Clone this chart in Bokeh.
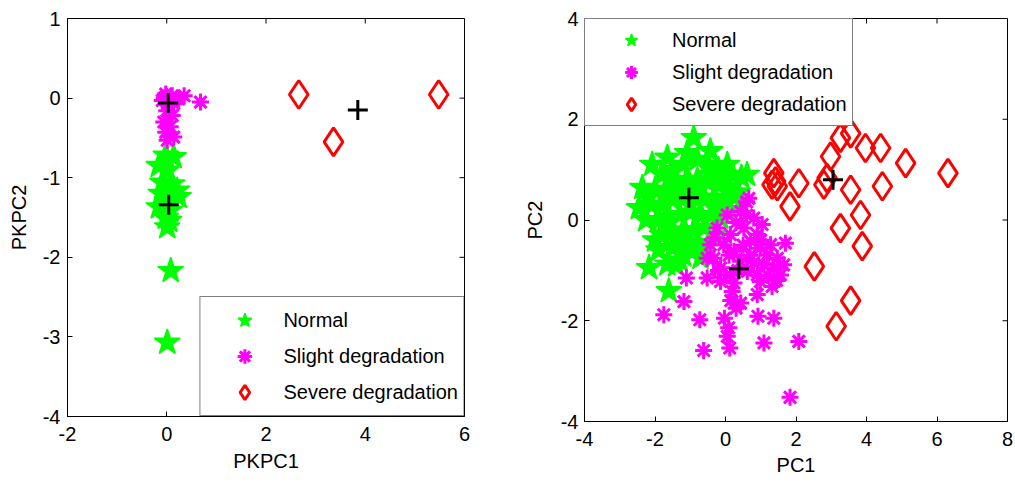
import math
from bokeh.plotting import figure
from bokeh.layouts import row
from bokeh.models import FixedTicker, Range1d, Legend, LegendItem
from bokeh.embed import file_html
from bokeh.resources import INLINE

# ---------------- data: left panel (PKPC) ----------------
left_normal_x = [-0.02, 0.14, -0.16, 0.01, -0.09, 0.11, 0.21, -0.12, 0.24, 0.00, -0.16, 0.07, -0.02, 0.05, 0.01, 0.08, 0.01]
left_normal_y = [-0.72, -0.74, -0.85, -0.91, -1.06, -1.08, -1.16, -1.20, -1.24, -1.29, -1.37, -1.41, -1.50, -1.54, -1.62, -2.17, -3.07]
left_slight_x = [-0.02, 0.11, -0.09, 0.14, 0.00, 0.11, -0.06, 0.07, -0.02, 0.14, 0.01, 0.35, 0.68, 0.24, 0.00, 0.05, -0.05, 0.08, 0.02, 0.10]
left_slight_y = [0.05, 0.03, -0.03, -0.07, -0.16, -0.22, -0.30, -0.36, -0.43, -0.49, -0.53, 0.03, -0.05, -0.01, 0.02, -0.02, 0.00, 0.00, -0.08, -0.04]
left_severe_x = [2.66, 3.36, 5.48]
left_severe_y = [0.045, -0.55, 0.045]
left_center_x = [0.03, 0.04, 3.85]
left_center_y = [-0.06, -1.34, -0.15]

# ---------------- data: right panel (PC) ----------------
right_normal_x = [-0.90, -0.43, 0.05, 0.61, -1.65, -1.09, -2.08, -2.36, -2.46, -2.17, -1.61, -1.65, -0.71, -1.20, -2.00,
                  -2.25, 0.35, 0.10, -0.30, 0.45,
                  -1.80, -1.50, -1.20, -0.80, -0.50, -0.20, 0.20,
                  -2.00, -1.70, -1.40, -1.10, -0.80, -0.50, -0.20, 0.10,
                  -2.10, -1.80, -1.50, -1.20, -0.90, -0.60, -0.30, 0.00,
                  -1.90, -1.60, -1.30, -1.00, -0.70, -0.40, -0.15,
                  -1.80, -1.50, -1.20, -0.90, -0.60,
                  -1.90, -1.50, -1.10, -0.80, -0.50, -1.40, -1.30,
                  -1.00, -0.95, -1.30, -0.70, -1.60, -0.40, -0.10, -2.20, -1.75, -1.35, -0.95, -0.25, 0.25]
right_normal_y = [1.63, 1.37, 1.10, 0.90, 1.24, 1.33, 1.10, 0.64, 0.24, -0.95, -1.41, -0.88, -0.75, -0.70, -0.40,
                  0.00, 0.55, 0.20, -0.30, 0.85,
                  0.90, 1.00, 1.10, 1.20, 1.10, 1.00, 0.90,
                  0.60, 0.60, 0.70, 0.80, 0.80, 0.75, 0.70, 0.65,
                  0.30, 0.30, 0.40, 0.45, 0.50, 0.40, 0.45, 0.40,
                  0.00, 0.05, 0.10, 0.15, 0.10, 0.10, 0.05,
                  -0.30, -0.25, -0.20, -0.20, -0.15,
                  -0.60, -0.55, -0.50, -0.45, -0.50, -0.90, -0.80,
                  0.30, 0.60, 0.55, 0.65, 0.80, 0.90, 0.85, 0.45, -0.10, -0.40, -0.55, 0.25, 0.45]
right_slight_x = [0.60, 0.43, 0.05, -0.24, -0.43, -0.52, -0.52, -0.14, 0.24, 0.14, 0.52, 0.71, 0.90, 0.99, 1.18, 1.47,
                  1.37, 1.56, 0.90, 0.99, -0.33, -0.05, 0.43, 0.62, 0.14, -0.14, 0.24, 0.80, 1.09, 1.65, 1.28,
                  -1.11, -1.18, -1.75, -0.73, -0.62, -0.03, 0.09, 0.05, 0.12, 0.92, 1.37, 1.09, 2.08, 1.83, 0.19,
                  0.43, 0.90, 1.32, 1.70, 1.04, 0.66,
                  0.30, 0.50, 0.10, -0.30, 0.70, 1.20, 0.35, 0.80, -0.20, 0.60, 1.00, 1.45, 0.15, 0.30]
right_slight_y = [0.36, 0.17, 0.10, -0.16, -0.49, -0.76, -1.15, -0.95, -0.62, -0.29, -0.16, -0.42, -0.29, -0.56, -0.69, -0.76,
                  -0.95, -1.09, -1.09, -1.22, -0.76, -0.49, -0.82, -1.02, -1.09, -1.22, -1.25, 0.04, -0.89, -0.89, -0.49,
                  -1.15, -1.62, -1.88, -1.98, -2.59, -1.95, -2.14, -2.31, -2.54, -1.91, -1.95, -2.44, -2.41, -3.52, -1.42,
                  -1.65, -1.48, -1.32, -0.46, -0.09, 0.43,
                  -0.05, -0.50, -0.70, -0.35, -0.70, -1.10, -1.00, -0.85, -1.00, 0.10, -0.40, -1.20, -1.60, -1.75]
right_severe_x = [3.55, 3.26, 3.97, 4.40, 2.98, 5.11, 6.31, 1.37, 1.42, 1.32, 1.47, 2.08, 2.79, 2.88, 3.55, 4.45,
                  1.83, 3.83, 3.26, 3.88, 2.52, 3.55, 3.14]
right_severe_y = [1.72, 1.63, 1.43, 1.43, 1.26, 1.13, 0.93, 0.93, 0.77, 0.70, 0.67, 0.73, 0.70, 0.83, 0.60, 0.67,
                  0.27, 0.10, -0.16, -0.52, -0.92, -1.60, -2.11]
right_center_x = [-1.04, 0.38, 3.05]
right_center_y = [0.44, -0.97, 0.80]

# ---------------- ticks / labels ----------------
left_xticks = [-2, 0, 2, 4, 6]
left_xtick_labels = ["-2", "0", "2", "4", "6"]
left_yticks = [-4, -3, -2, -1, 0, 1]
left_ytick_labels = ["-4", "-3", "-2", "-1", "0", "1"]
right_xticks = [-4, -2, 0, 2, 4, 6, 8]
right_xtick_labels = ["-4", "-2", "0", "2", "4", "6", "8"]
right_yticks = [-4, -2, 0, 2, 4]
right_ytick_labels = ["-4", "-2", "0", "2", "4"]
legend_labels = ["Normal", "Slight degradation", "Severe degradation"]

FONT = "Liberation Sans"
GREEN = "#00ff00"
MAGENTA = "#ff00ff"
RED = "#ff0000"
TICK_LEN = 5


def style_axis(ax, ticks, labels, standoff):
    ax.ticker = FixedTicker(ticks=ticks)
    ax.major_label_overrides = {t: l for t, l in zip(ticks, labels)}
    ax.major_tick_in = TICK_LEN
    ax.major_tick_out = 0
    ax.minor_tick_line_color = None
    ax.axis_line_color = "black"
    ax.major_tick_line_color = "black"
    ax.major_label_text_font = FONT
    ax.major_label_text_font_size = "20px"
    ax.major_label_text_color = "black"
    ax.major_label_standoff = standoff
    ax.axis_label_text_font = FONT
    ax.axis_label_text_font_size = "20px"
    ax.axis_label_text_font_style = "normal"
    ax.axis_label_text_color = "black"


def make_panel(xr, yr, xt, xtl, yt, ytl, xlabel, ylabel, fw, fh, borders, stand):
    bl, br, bt, bb = borders
    p = figure(frame_width=fw, frame_height=fh, x_range=Range1d(*xr), y_range=Range1d(*yr),
               output_backend="svg", toolbar_location=None,
               min_border_left=bl, min_border_right=br, min_border_top=bt, min_border_bottom=bb,
               background_fill_color="white", border_fill_color="white")
    p.grid.visible = False
    p.outline_line_color = "black"
    p.outline_line_width = 1
    style_axis(p.xaxis[0], xt, xtl, stand[0])
    style_axis(p.yaxis[0], yt, ytl, stand[1])
    p.xaxis[0].axis_label = xlabel
    p.yaxis[0].axis_label = ylabel
    p.xaxis[0].axis_label_standoff = stand[2]
    p.yaxis[0].axis_label_standoff = stand[3]
    # inward ticks on the top and right edges of the box (MATLAB style)
    p.ray(x=xt, y=[yr[1]] * len(xt), length=TICK_LEN, length_units="screen",
          angle=-math.pi / 2, line_color="black", line_width=1)
    p.ray(x=[xr[1]] * len(yt), y=yt, length=TICK_LEN, length_units="screen",
          angle=math.pi, line_color="black", line_width=1)
    return p


def add_series(p, nx, ny, sx, sy, vx, vy, cx, cy):
    r1 = p.scatter(nx, ny, marker="star", size=27, fill_color=GREEN, line_color=GREEN, line_width=1.5)
    r2 = p.scatter(sx, sy, marker="asterisk", size=17, line_color=MAGENTA, line_width=3)
    r3 = p.scatter(vx, vy, marker="diamond", size=28, fill_color=None, line_color=RED, line_width=3)
    p.scatter(cx, cy, marker="cross", size=20, line_color="black", line_width=3)
    return [r1, r2, r3]


def make_legend(rends, location, glyph_w, glyph_h):
    items = [LegendItem(label=lab, renderers=[r]) for lab, r in zip(legend_labels, rends)]
    lg = Legend(items=items, location=location, margin=0, padding=5, spacing=0,
                glyph_width=glyph_w, glyph_height=glyph_h, label_height=glyph_h, label_standoff=0,
                label_text_font=FONT, label_text_font_size="20px", label_text_color="black",
                border_line_color="black", border_line_width=1, background_fill_color="white",
                background_fill_alpha=1.0)
    return lg


left = make_panel((-2, 6), (-4, 1), left_xticks, left_xtick_labels, left_yticks, left_ytick_labels,
                  "PKPC1", "PKPC2", 397, 398, (67, 56, 18, 67), (10, 7, 6, 10))
lr = add_series(left, left_normal_x, left_normal_y, left_slight_x, left_slight_y,
                left_severe_x, left_severe_y, left_center_x, left_center_y)
left.add_layout(make_legend(lr, "bottom_right", 78, 36))

right = make_panel((-4, 8), (-4, 4), right_xticks, right_xtick_labels, right_yticks, right_ytick_labels,
                   "PC1", "PC2", 423, 403, (64, 8, 17, 63), (10, 6, 5, 12))
rr = add_series(right, right_normal_x, right_normal_y, right_slight_x, right_slight_y,
                right_severe_x, right_severe_y, right_center_x, right_center_y)
right.add_layout(make_legend(rr, "top_left", 82, 32))

layout = row(left, right)
open("out.html", "w").write(file_html(layout, INLINE))
